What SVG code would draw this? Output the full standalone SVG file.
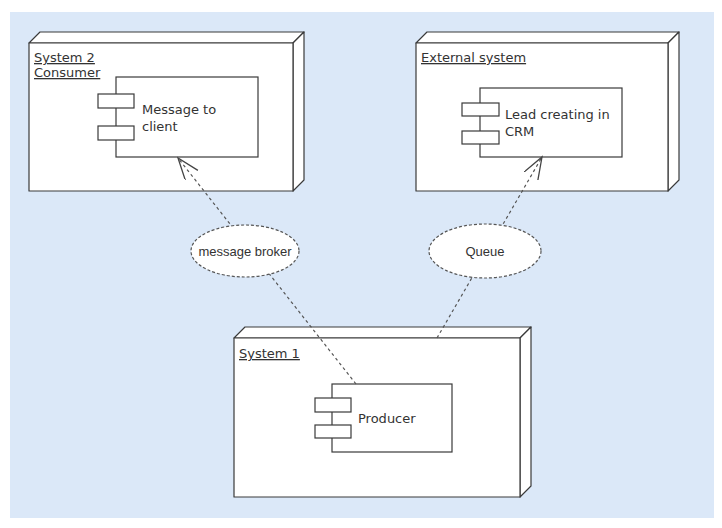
<svg xmlns="http://www.w3.org/2000/svg" width="722" height="528" viewBox="0 0 722 528">
<style>
.bg{fill:#dbe8f8}
.face{fill:#ffffff;stroke:#3a3a3a;stroke-width:1.2;stroke-linejoin:round}
.comp{fill:#ffffff;stroke:#3a3a3a;stroke-width:1.2}
.t{font-family:"DejaVu Sans",Verdana,sans-serif;font-size:13px;fill:#333}
.u{text-decoration:underline}
.e{fill:#ffffff;stroke:#555;stroke-width:1.2;stroke-dasharray:3,2}
.et{font-family:"Liberation Sans",Arial,sans-serif;font-size:13px;fill:#333;text-anchor:middle}
.c{fill:none;stroke:#555;stroke-width:1.2;stroke-dasharray:3,3}
</style>
<defs>
<marker id="open" markerUnits="userSpaceOnUse" markerWidth="24" markerHeight="18" refX="22" refY="8" orient="auto">
<path d="M0,0 L22,8 L0,16" fill="none" stroke="#444" stroke-width="1.3"/>
</marker>
</defs>
<rect class="bg" x="10" y="12" width="704" height="506"/>

<g id="system2">
<polygon class="face" points="29,43 40,32 304,32 293,43"/>
<polygon class="face" points="293,43 304,32 304,180 293,191"/>
<rect class="face" x="29" y="43" width="264" height="148"/>
<text class="t u" x="34" y="62">System 2</text>
<text class="t u" x="34" y="77">Consumer</text>
<g id="msg-to-client">
<rect class="comp" x="116" y="77" width="142" height="80"/>
<rect class="comp" x="98" y="94" width="36" height="14"/>
<rect class="comp" x="98" y="126" width="36" height="14"/>
<text class="t" x="142" y="114">Message to</text>
<text class="t" x="142" y="131">client</text>
</g>
</g>

<g id="external">
<polygon class="face" points="416,43 427,32 679,32 668,43"/>
<polygon class="face" points="668,43 679,32 679,180 668,191"/>
<rect class="face" x="416" y="43" width="252" height="148"/>
<text class="t u" x="421" y="62">External system</text>
<g id="lead-crm">
<rect class="comp" x="480" y="88" width="142" height="69"/>
<rect class="comp" x="462" y="103" width="37" height="13"/>
<rect class="comp" x="462" y="131" width="37" height="13"/>
<text class="t" x="505" y="119">Lead creating in</text>
<text class="t" x="505" y="136">CRM</text>
</g>
</g>

<g id="system1">
<polygon class="face" points="234,338 245,327 531,327 520,338"/>
<polygon class="face" points="520,338 531,327 531,486 520,497"/>
<rect class="face" x="234" y="338" width="286" height="159"/>
<text class="t u" x="239" y="358">System 1</text>
<g id="producer">
<rect class="comp" x="332" y="384" width="120" height="68"/>
<rect class="comp" x="315" y="398" width="36" height="14"/>
<rect class="comp" x="315" y="425" width="36" height="13"/>
<text class="t" x="358" y="423">Producer</text>
</g>
</g>

<g id="connectors">
<line class="c" x1="356" y1="384" x2="178" y2="158" marker-end="url(#open)"/>
<line class="c" x1="437" y1="338" x2="542" y2="157" marker-end="url(#open)"/>
</g>

<g id="message-broker">
<ellipse class="e" cx="245" cy="251" rx="54" ry="26"/>
<text class="et" x="245" y="256">message broker</text>
</g>
<g id="queue">
<ellipse class="e" cx="485" cy="251" rx="56" ry="27"/>
<text class="et" x="485" y="256">Queue</text>
</g>
</svg>
